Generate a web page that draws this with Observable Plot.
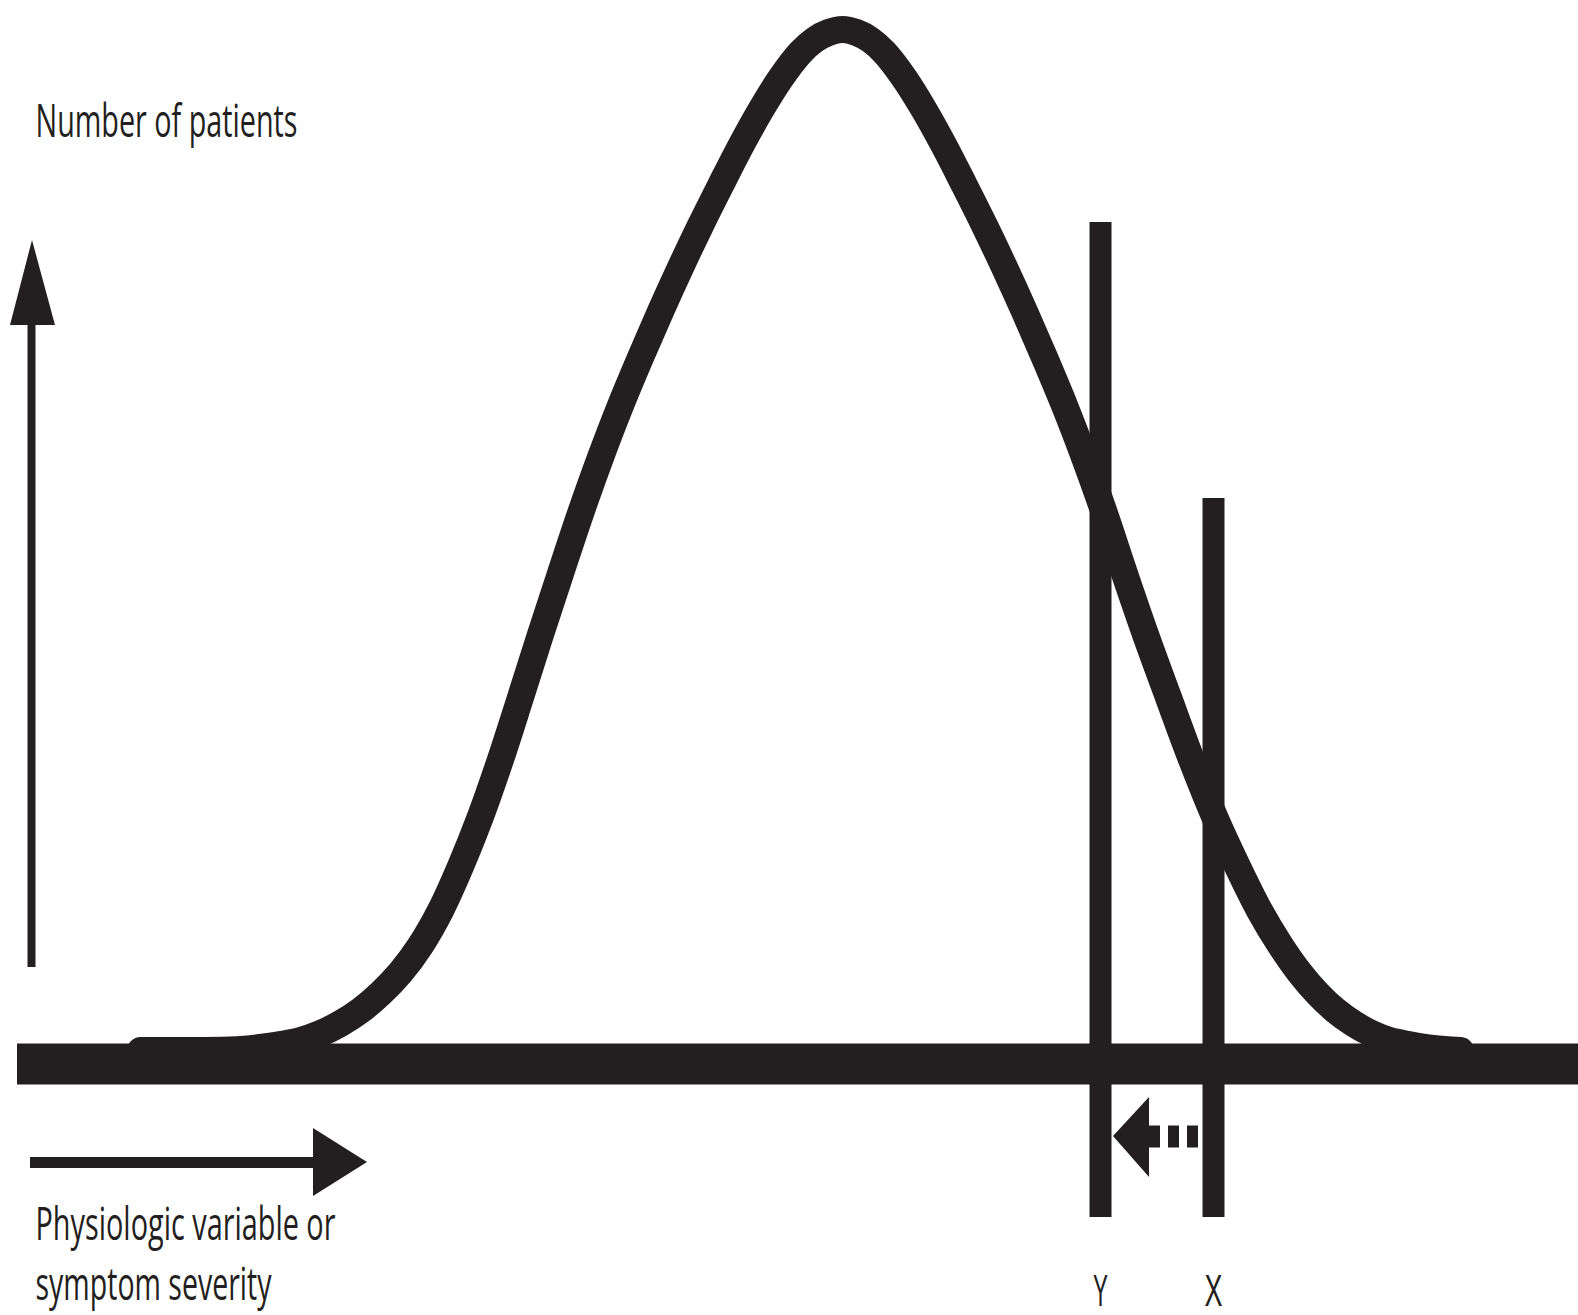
<!DOCTYPE html>
<html>
<head>
<meta charset="utf-8">
<script src="https://cdn.jsdelivr.net/npm/d3@7"></script>
<script src="https://cdn.jsdelivr.net/npm/@observablehq/plot@0.6"></script>
<style>
  html, body { margin: 0; padding: 0; background: #ffffff; overflow: hidden; }
  svg { display: block; }
</style>
</head>
<body>
<div id="chart"></div>
<script>
// ---------------- DATA ----------------
// Distribution curve: severity (x) vs number of patients (y, 0 = baseline)
const severity = [140, 200, 240, 260, 280, 300, 320, 340, 360, 380, 400, 420, 440, 460, 480, 500, 520, 540, 560, 580, 600,
                  620, 640, 660, 680, 700, 720, 740, 760, 780, 800, 814, 828, 842,
                  856, 870, 884, 904, 924, 944, 964, 984, 1004, 1024, 1044, 1064, 1084, 1104, 1124, 1145, 1168, 1191,
                  1214, 1237, 1259, 1280, 1299, 1317, 1335, 1353, 1371, 1389, 1408, 1426, 1444, 1460];
const patients = [13.5, 13.5, 14.5, 16.5, 19.5, 23.5, 30.5, 40.5, 53.5, 70.5, 91.5, 118.5, 153.5, 197.5, 247.5, 304.5, 366.5, 429.5, 490.5, 550.5, 606.5,
                  658.5, 706.5, 752.5, 796.5, 838.5, 878.5, 917.5, 953.5, 985.5, 1011.5, 1024, 1031.5, 1034.5,
                  1031.5, 1024, 1011.5, 985.5, 953.5, 917.5, 878.5, 838.5, 796.5, 752.5, 706.5, 658.5, 606.5, 550.5, 490.5, 429.5, 366.5, 304.5,
                  247.5, 197.5, 153.5, 118.5, 91.5, 70.5, 53.5, 40.5, 30.5, 23.5, 19.5, 16.5, 14.5, 13.5];

// Cut-off thresholds
const cutoffNames = ["Y", "X"];
const cutoffValues = [1100, 1213];
const cutoffTops = [841.5, 565.5];
const cutoffBottom = -153.5;

// Axis-label texts
const yAxisTitle = "Number of patients";
const xAxisTitle = ["Physiologic variable or", "symptom severity"];

// ---------------- LAYOUT (annotation geometry, in data units) ----------------
const ink = "#231f20";
const xDomain = [0, 1578];
const yDomain = [-251.5, 1063.5];

const curve = severity.map((s, i) => ({s, p: patients[i]}));
const cutoffs = cutoffNames.map((name, i) => ({name, value: cutoffValues[i], top: cutoffTops[i]}));

const upArrowHead = [{y: 823.5, x1: 32, x2: 32}, {y: 738.5, x1: 10, x2: 55}];
const rightArrowHead = [{x: 313, y1: -64.5, y2: -132.5}, {x: 367, y1: -98.5, y2: -98.5}];
const shiftArrowHead = [{x: 1113, y1: -72.5, y2: -72.5}, {x: 1149, y1: -33.5, y2: -113.5}];

const labels = [
  {text: yAxisTitle, x: 35, y: 927.5, w: 262},
  {text: xAxisTitle[0], x: 35, y: -175.5, w: 300},
  {text: xAxisTitle[1], x: 35, y: -235.5, w: 236}
];
const cutoffLabelY = -241.5;
const cutoffLabelWidths = {Y: 15, X: 18};

const font = "'Open Sans', 'Liberation Sans', sans-serif";

const svg = Plot.plot({
  width: 1578,
  height: 1315,
  margin: 0,
  x: {domain: xDomain, axis: null},
  y: {domain: yDomain, axis: null},
  style: {background: "#ffffff", color: ink},
  marks: [
    // baseline
    Plot.ruleY([0], {x1: 17, x2: 1578, stroke: ink, strokeWidth: 41}),
    // bell curve
    Plot.line(curve, {x: "s", y: "p", curve: "catmull-rom", stroke: ink, strokeWidth: 27}),
    // cut-off lines
    Plot.ruleX(cutoffs, {x: "value", y1: cutoffBottom, y2: "top", stroke: ink, strokeWidth: 22}),
    // vertical axis arrow
    Plot.ruleX([31], {y1: 96.5, y2: 738.5, stroke: ink, strokeWidth: 8}),
    Plot.areaX(upArrowHead, {y: "y", x1: "x1", x2: "x2", fill: ink}),
    // horizontal axis arrow
    Plot.ruleY([-98.5], {x1: 30, x2: 313, stroke: ink, strokeWidth: 11}),
    Plot.areaY(rightArrowHead, {x: "x", y1: "y1", y2: "y2", fill: ink}),
    // shift arrow X -> Y (dashed)
    Plot.ruleY([-72.5], {x1: 1149, x2: 1198, stroke: ink, strokeWidth: 22, strokeDasharray: "11,8"}),
    Plot.areaY(shiftArrowHead, {x: "x", y1: "y1", y2: "y2", fill: ink}),
    // axis titles
    Plot.text(labels, {x: "x", y: "y", text: "text", textAnchor: "start", lineAnchor: "bottom",
      fontSize: 45, fontFamily: font, fill: ink}),
    // cut-off labels
    Plot.text(cutoffs, {x: "value", y: cutoffLabelY, text: "name", textAnchor: "middle", lineAnchor: "bottom",
      fontSize: 44, fontFamily: "'Liberation Sans', sans-serif", fill: ink})
  ]
});

// condense label glyphs to the narrow face of the original
const widths = Object.fromEntries(labels.map(d => [d.text, d.w]));
Object.assign(widths, cutoffLabelWidths);
d3.select(svg).selectAll("text").each(function () {
  const w = widths[this.textContent];
  if (w) {
    this.setAttribute("textLength", w);
    this.setAttribute("lengthAdjust", "spacingAndGlyphs");
  }
});

document.getElementById("chart").appendChild(svg);
</script>
</body>
</html>
